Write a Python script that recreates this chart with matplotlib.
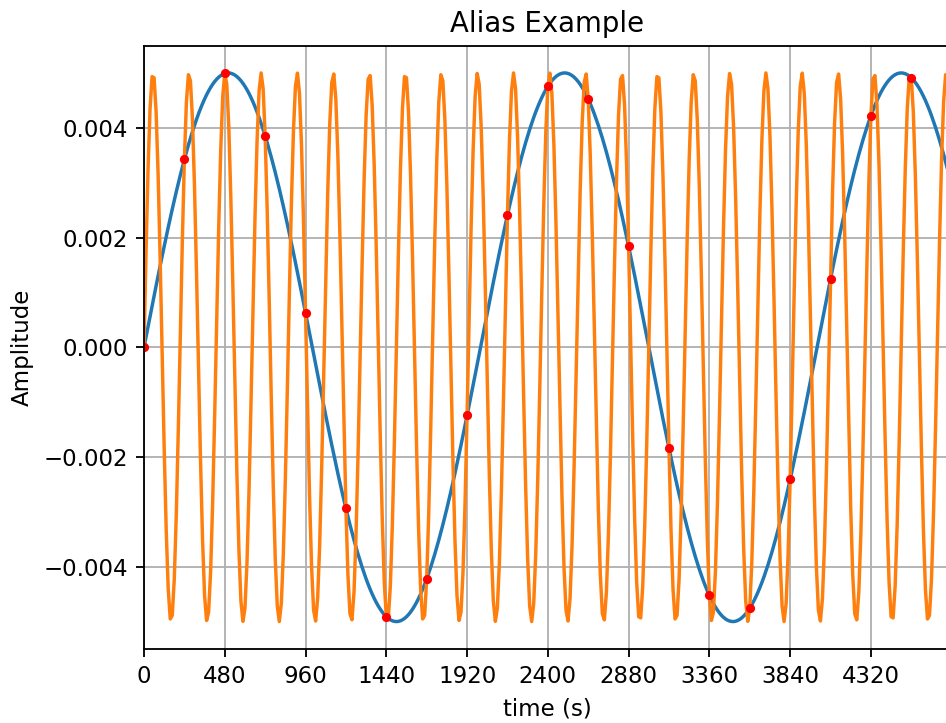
import numpy as np
import matplotlib
matplotlib.use("Agg")
import matplotlib.pyplot as plt

# Signal parameters
amplitude = 0.005          # peak amplitude of both tones
signal_period = 2000.0     # period of the slow (true) tone, seconds
sample_interval = 240.0    # sampling interval, seconds
duration = 4800.0          # length of the time axis, seconds
plot_step = 12.0           # resolution of the drawn curves, seconds
xtick_values = [0, 480, 960, 1440, 1920, 2400, 2880, 3360, 3840, 4320]

f_signal = 1.0 / signal_period
f_sample = 1.0 / sample_interval
f_alias = f_sample + f_signal   # higher tone that produces identical samples

t = np.arange(0, duration, plot_step)
slow = amplitude * np.sin(2 * np.pi * f_signal * t)
fast = amplitude * np.sin(2 * np.pi * f_alias * t)

t_samp = np.arange(0, duration, sample_interval)
samples = amplitude * np.sin(2 * np.pi * f_signal * t_samp)

dpi = 165
W, H = 946, 723
fig = plt.figure(figsize=(W / dpi, H / dpi), dpi=dpi)
ax = fig.add_axes([144 / W, 74 / H, (950 - 144) / W, (649 - 45.5) / H])

ax.plot(t, slow)
ax.plot(t, fast)
ax.plot(t_samp, samples, 'r.')

ax.set_xlim(0, 4790)
ax.set_xticks(xtick_values)
ax.grid(True)
ax.set_title("Alias Example")
ax.set_xlabel("time (s)")
ax.set_ylabel("Amplitude")

fig.savefig("out.png", dpi=dpi)
